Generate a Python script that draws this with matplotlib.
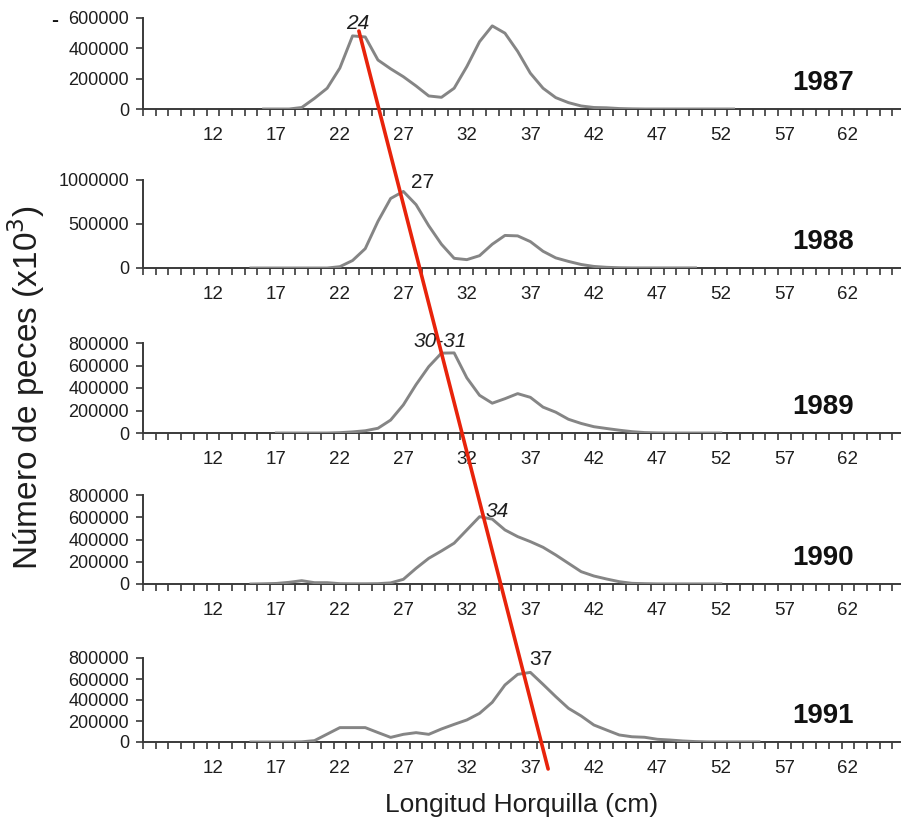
import numpy as np
import matplotlib
matplotlib.use("Agg")
import matplotlib.pyplot as plt
from matplotlib.patches import ConnectionPatch
from matplotlib.ticker import FixedLocator, NullFormatter

plt.rcParams["font.family"] = ["Liberation Sans", "DejaVu Sans"]

# Fork-length classes (cm) shown on every axis
lengths = np.arange(7, 67)
label_lengths = np.arange(12, 63, 5)

years = ["1987", "1988", "1989", "1990", "1991"]

# Number of fish per length class, first class given by start_*
start_1987 = 16
counts_1987 = [0, 0, 0, 10000, 70000, 137000, 270000, 482000, 475000, 323000,
               265000, 213000, 152000, 86000, 77000, 137000, 280000, 444000,
               548000, 500000, 380000, 236000, 137000, 75000, 42000, 20000,
               10000, 8000, 3000, 1000, 0, 0, 0, 0, 0, 0, 0, 0]

start_1988 = 15
counts_1988 = [0, 0, 0, 0, 0, 0, 0, 15000, 85000, 220000, 530000, 790000,
               870000, 720000, 480000, 270000, 110000, 95000, 140000, 270000,
               370000, 365000, 300000, 190000, 115000, 75000, 40000, 18000,
               8000, 3000, 1000, 1000, 1000, 1000, 1000, 1000]

start_1989 = 17
counts_1989 = [0, 0, 0, 0, 0, 3000, 10000, 20000, 42000, 115000, 250000,
               430000, 590000, 710000, 712000, 490000, 335000, 265000, 305000,
               350000, 317000, 230000, 185000, 122000, 85000, 56000, 40000,
               25000, 12000, 4000, 1000, 0, 0, 0, 0, 0]

start_1990 = 15
counts_1990 = [0, 2000, 5000, 15000, 30000, 12000, 12000, 3000, 2000, 2000,
               3000, 10000, 42000, 141000, 231000, 297000, 367000, 486000,
               605000, 583000, 486000, 426000, 381000, 330000, 261000, 186000,
               111000, 72000, 45000, 21000, 6000, 3000, 1000, 1000, 1000, 1000,
               1000, 1000]

start_1991 = 15
counts_1991 = [0, 0, 0, 0, 2000, 13000, 75000, 137000, 137000, 137000, 90000,
               44000, 73000, 89000, 73000, 124000, 168000, 210000, 273000,
               378000, 543000, 644000, 663000, 549000, 432000, 321000, 248000,
               162000, 114000, 67000, 50000, 45000, 26000, 19000, 10000, 4000,
               1000, 1000, 1000, 1000, 1000]

starts = [start_1987, start_1988, start_1989, start_1990, start_1991]
series = [counts_1987, counts_1988, counts_1989, counts_1990, counts_1991]

# Y-axis ranges and tick steps per year
y_max = [600000, 1000000, 800000, 800000, 800000]
y_step = [200000, 500000, 200000, 200000, 200000]

# Modal length labels and where they sit (length, count)
mode_text = ["24", "27", "30-31", "34", "37"]
mode_pos = [(23.4, 567000), (28.55, 977000), (29.9, 809000), (34.4, 651000), (37.8, 781000)]
mode_italic = [True, False, True, True, False]

# Trend line through the modal classes: (length, count) in first and last panel
trend_start = (23.5, 514000)
trend_end = (38.4, -257000)

W, H = 901, 825
fig = plt.figure(figsize=(W / 100, H / 100), dpi=100)

# panel placement in pixels: (bottom, top)
panel_px = [(109, 18), (268, 180), (433, 343), (584, 495), (742, 658)]
left_px, width_px = 143, 762

gray = "#858585"
axis_col = "#3a3a3a"
text_col = "#1e1e1e"

axes = []
for i, (yr, st, vals) in enumerate(zip(years, starts, series)):
    b, t = panel_px[i]
    ax = fig.add_axes([left_px / W, 1 - b / H, width_px / W, (b - t) / H])
    axes.append(ax)
    full = np.full(lengths.shape, np.nan)
    idx = st - lengths[0]
    full[idx:idx + len(vals)] = vals
    ax.plot(lengths, full, color=gray, lw=2.1, solid_joinstyle="round", zorder=3)

    ax.set_xlim(lengths[0] - 0.5, lengths[-1] + 0.5)
    ax.set_ylim(0, y_max[i])
    for s in ["top", "right"]:
        ax.spines[s].set_visible(False)
    for s in ["left", "bottom"]:
        ax.spines[s].set_color(axis_col)
        ax.spines[s].set_linewidth(1.4)

    yt = np.arange(0, y_max[i] + 1, y_step[i])
    ax.set_yticks(yt)
    ax.set_yticklabels([str(int(v)) for v in yt])
    ax.tick_params(axis="y", direction="out", length=5, width=1.2, color=axis_col,
                   labelsize=13, labelcolor=text_col, pad=5)

    ax.set_xticks(label_lengths)
    ax.set_xticklabels([str(v) for v in label_lengths])
    ax.tick_params(axis="x", which="major", length=0, labelsize=13.5,
                   labelcolor=text_col, pad=13)
    ax.xaxis.set_minor_locator(FixedLocator(np.arange(lengths[0] - 0.5, lengths[-1] + 1, 1)))
    ax.xaxis.set_minor_formatter(NullFormatter())
    ax.tick_params(axis="x", which="minor", direction="out", length=5, width=1.2,
                   color=axis_col)

    ax.annotate(yr, xy=(823 - left_px, 0), xycoords="axes pixels",
                xytext=(0, 19), textcoords="offset points",
                ha="center", va="center", fontsize=20, fontweight="bold",
                color="#111111")

    mx, my = mode_pos[i]
    ax.text(mx, my, mode_text[i], ha="center", va="center", fontsize=15,
            style="italic" if mode_italic[i] else "normal", color=text_col,
            zorder=5)

con = ConnectionPatch(xyA=trend_start, coordsA=axes[0].transData,
                      xyB=trend_end, coordsB=axes[-1].transData,
                      color="#e8230b", lw=2.6, zorder=10)
fig.add_artist(con)

fig.text(26 / W, 1 - 388 / H, "Número de peces (x10$^3$)", rotation=90,
         ha="center", va="center", fontsize=24, color=text_col)
fig.text(522 / W, 1 - 805 / H, "Longitud Horquilla (cm)", ha="center",
         va="center", fontsize=19, color=text_col)
fig.text(55 / W, 1 - 21 / H, "-", ha="center", va="center", fontsize=15,
         fontweight="bold", color="#111111")

fig.savefig("out.png", dpi=100)
